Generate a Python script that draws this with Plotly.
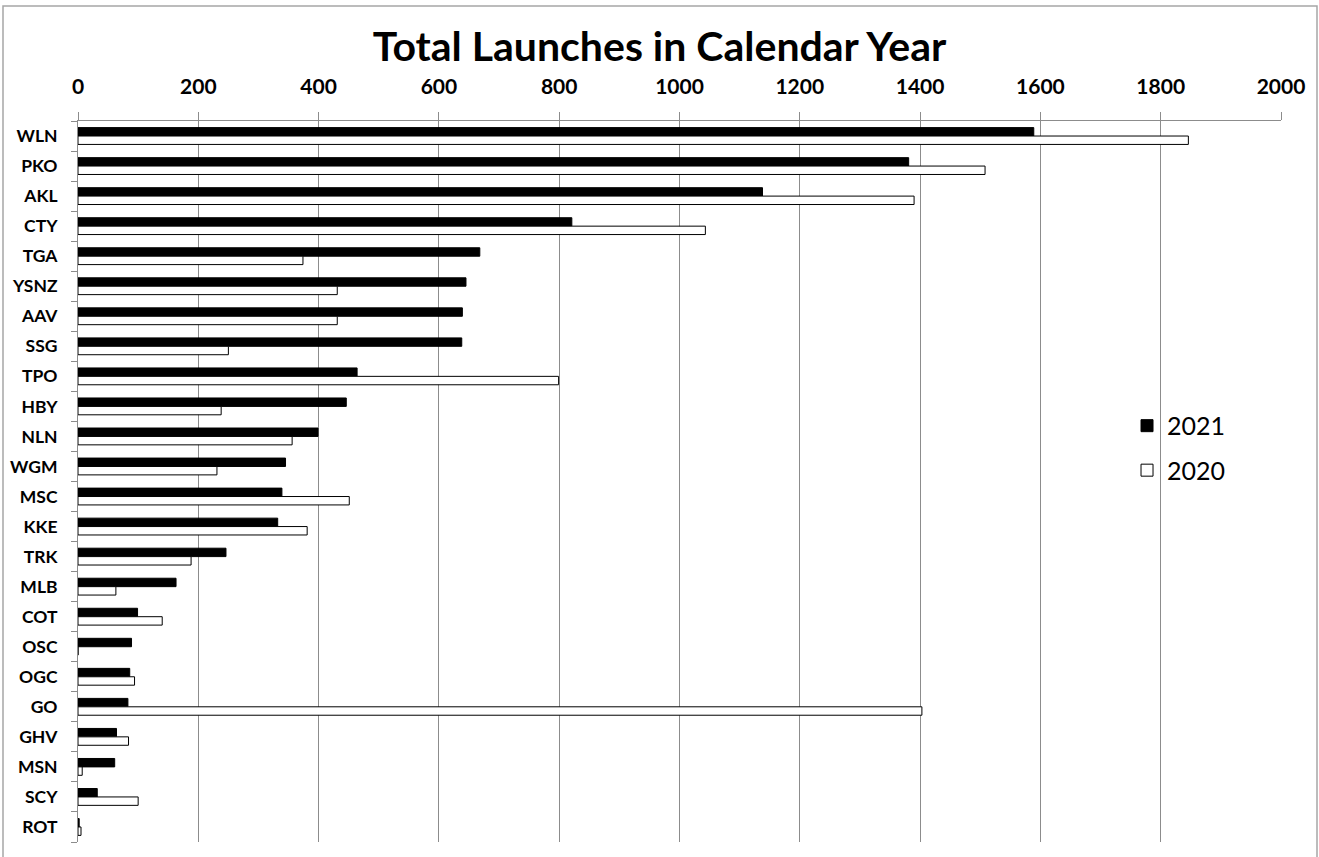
import plotly.graph_objects as go

categories = ["WLN", "PKO", "AKL", "CTY", "TGA", "YSNZ", "AAV", "SSG", "TPO", "HBY",
              "NLN", "WGM", "MSC", "KKE", "TRK", "MLB", "COT", "OSC", "OGC", "GO",
              "GHV", "MSN", "SCY", "ROT"]
launches_2021 = [1589, 1381, 1138, 821, 668, 645, 639, 638, 464, 446,
                 399, 345, 339, 332, 246, 163, 99, 89, 86, 83,
                 64, 61, 32, 2]
launches_2020 = [1846, 1508, 1390, 1043, 374, 431, 431, 250, 799, 238,
                 356, 231, 451, 381, 188, 63, 140, 0, 94, 1403,
                 84, 7, 100, 5]
x_ticks = list(range(0, 2001, 200))

FONT = "Lato, 'Open Sans', sans-serif"
GRID = "#8c8c8c"

fig = go.Figure()
fig.add_trace(go.Bar(
    y=categories, x=launches_2021, name="2021", orientation="h",
    marker=dict(color="black", line=dict(color="black", width=1)),
    legendgroup="a",
))
fig.add_trace(go.Bar(
    y=categories, x=launches_2020, name="2020", orientation="h",
    marker=dict(color="white", line=dict(color="black", width=1)),
    legendgroup="b",
))

fig.update_layout(
    width=1319, height=857,
    paper_bgcolor="white", plot_bgcolor="white",
    margin=dict(l=78, r=38, t=121, b=15),
    barmode="group", bargap=0.44, bargroupgap=0,
    title=dict(text="<b>Total Launches in Calendar Year</b>",
               font=dict(family=FONT, size=41, color="black"),
               x=0.5, xanchor="center", y=1 - 47 / 857, yanchor="middle",
               xref="container", yref="container"),
    font=dict(family=FONT, color="black"),
    showlegend=True,
    legend=dict(x=0.872, y=0.609, xanchor="left", yanchor="top",
                font=dict(family=FONT, size=25, color="black"),
                traceorder="grouped", tracegroupgap=9,
                bgcolor="rgba(0,0,0,0)"),
    xaxis=dict(side="top", range=[0, 2000], tickvals=x_ticks,
               ticktext=[f"<b>{v}</b>" for v in x_ticks],
               tickfont=dict(family=FONT, size=21, color="black"),
               showgrid=True, gridcolor=GRID, gridwidth=1,
               showline=True, linecolor=GRID, linewidth=1,
               ticks="outside", ticklen=8, tickcolor=GRID,
               ticklabelstandoff=10, zeroline=False, fixedrange=True,
               automargin=False),
    yaxis=dict(autorange="reversed", type="category",
               tickvals=categories,
               ticktext=[f"<b>{c}</b>" for c in categories],
               tickfont=dict(family=FONT, size=17.5, color="black"),
               showgrid=False, showline=True, linecolor=GRID, linewidth=1,
               ticks="outside", ticklen=6, tickcolor=GRID,
               tickson="boundaries", ticklabelstandoff=16, fixedrange=True,
               automargin=False),
)

fig.add_shape(type="rect", xref="paper", yref="paper",
              x0=(3 - 78) / 1203, x1=(1317 - 78) / 1203,
              y0=(842 - 860) / 721, y1=(842 - 6) / 721,
              line=dict(color="#a6a6a6", width=1.5), fillcolor="rgba(0,0,0,0)",
              layer="below")

fig.write_html("out.html", config={"displayModeBar": False},
               post_script="document.body.style.margin='0';document.body.style.overflow='hidden';")
